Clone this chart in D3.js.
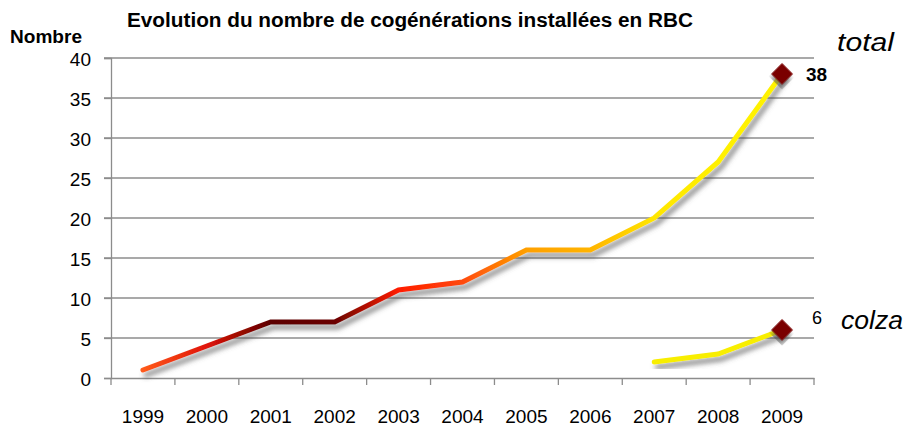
<!DOCTYPE html>
<html>
<head>
<meta charset="utf-8">
<script src="https://cdn.jsdelivr.net/npm/d3@7"></script>
<style>
  html, body { margin: 0; padding: 0; background: #fff; }
  svg { display: block; font-family: "Liberation Sans", Arial, sans-serif; }
</style>
</head>
<body>
<svg id="chart" width="907" height="431"></svg>
<script>
// ---- data ----
const years = ["1999","2000","2001","2002","2003","2004","2005","2006","2007","2008","2009"];
const totalValues = [1, 4, 7, 7, 11, 12, 16, 16, 20, 27, 38];
const colzaYears = ["2007","2008","2009"];
const colzaValues = [2, 3, 6];
const yTicks = [0, 5, 10, 15, 20, 25, 30, 35, 40];
const titleText = "Evolution du nombre de cogénérations installées en RBC";
const yAxisTitle = "Nombre";
const seriesNames = ["total", "colza"];

// ---- style ----
const gradientColors = ["#FF5A1A", "#E01408", "#5C0000", "#6A0404", "#FF1C00", "#FF4A0C", "#FFA000", "#FFB400", "#FFE600", "#FFF000", "#FFF200"];
const gridColor = "#8C8C8C";
const markerColor = "#7A0000";
const colzaColor = "#F8EE00";

const svg = d3.select("#chart");
const x = d3.scaleBand().domain(years).range([111, 814]).padding(0);
const y = d3.scaleLinear().domain([0, 40]).range([378, 58]);
const cx = d => x(d) + x.bandwidth() / 2;

const defs = svg.append("defs");
const f = defs.append("filter").attr("id", "shadow")
  .attr("x", "-20%").attr("y", "-20%").attr("width", "140%").attr("height", "140%");
f.append("feGaussianBlur").attr("in", "SourceAlpha").attr("stdDeviation", 2.5).attr("result", "b");
f.append("feOffset").attr("in", "b").attr("dx", 3).attr("dy", 5).attr("result", "o");
f.append("feFlood").attr("flood-color", "#555").attr("flood-opacity", 0.65);
f.append("feComposite").attr("in2", "o").attr("operator", "in").attr("result", "s");
const m = f.append("feMerge");
m.append("feMergeNode").attr("in", "s");
m.append("feMergeNode").attr("in", "SourceGraphic");

const grad = defs.append("linearGradient").attr("id", "totGrad")
  .attr("gradientUnits", "userSpaceOnUse")
  .attr("x1", cx(years[0])).attr("x2", cx(years[years.length - 1]))
  .attr("y1", 0).attr("y2", 0);
years.forEach((yr, i) => {
  grad.append("stop")
    .attr("offset", (cx(yr) - cx(years[0])) / (cx(years[years.length - 1]) - cx(years[0])))
    .attr("stop-color", gradientColors[i]);
});

// gridlines
svg.append("g").selectAll("line").data(yTicks.filter(t => t > 0)).join("line")
  .attr("x1", 104).attr("x2", 814)
  .attr("y1", d => y(d)).attr("y2", d => y(d))
  .attr("stroke", gridColor).attr("stroke-width", 1.3);

// y axis
const yAxis = svg.append("g").attr("transform", "translate(111,0)")
  .call(d3.axisLeft(y).tickValues(yTicks).tickSize(7).tickPadding(13));
yAxis.select(".domain").attr("stroke", gridColor).attr("stroke-width", 1.3);
yAxis.selectAll(".tick line").attr("stroke", gridColor).attr("stroke-width", 1.3);
yAxis.selectAll(".tick text").attr("font-size", 19).attr("fill", "#000")
  .attr("font-family", "Liberation Sans, Arial, sans-serif").attr("dy", "0.38em");

// x axis
const xAxis = svg.append("g").attr("transform", "translate(0,378)")
  .call(d3.axisBottom(x).tickSize(0).tickPadding(32));
xAxis.select(".domain").attr("stroke", gridColor).attr("stroke-width", 1.3);
xAxis.selectAll(".tick text").attr("font-size", 19).attr("fill", "#000")
  .attr("font-family", "Liberation Sans, Arial, sans-serif");
// category boundary ticks
const bounds = years.map(d => x(d)).concat([x(years[years.length - 1]) + x.bandwidth()]);
svg.append("g").selectAll("line").data(bounds).join("line")
  .attr("x1", d => d).attr("x2", d => d).attr("y1", 378).attr("y2", 385)
  .attr("stroke", gridColor).attr("stroke-width", 1.3);

// lines
const line = d3.line().x(d => cx(d[0])).y(d => y(d[1]));
svg.append("path")
  .datum(years.map((yr, i) => [yr, totalValues[i]]))
  .attr("d", line).attr("fill", "none")
  .attr("stroke", "url(#totGrad)").attr("stroke-width", 5)
  .attr("stroke-linejoin", "miter").attr("stroke-linecap", "round")
  .attr("filter", "url(#shadow)");
svg.append("path")
  .datum(colzaYears.map((yr, i) => [yr, colzaValues[i]]))
  .attr("d", line).attr("fill", "none")
  .attr("stroke", colzaColor).attr("stroke-width", 5)
  .attr("stroke-linejoin", "miter").attr("stroke-linecap", "round")
  .attr("filter", "url(#shadow)");

// end markers
const ends = [[years[years.length - 1], totalValues[totalValues.length - 1]],
              [colzaYears[colzaYears.length - 1], colzaValues[colzaValues.length - 1]]];
svg.append("g").selectAll("path").data(ends).join("path")
  .attr("d", d3.symbol().type(d3.symbolSquare).size(240))
  .attr("transform", d => `translate(${cx(d[0])},${y(d[1])}) rotate(45)`)
  .attr("fill", markerColor).attr("filter", "url(#shadow)");

// value labels
svg.append("text").attr("x", cx(ends[0][0]) + 24).attr("y", y(ends[0][1]) + 7)
  .attr("font-size", 19).attr("font-weight", "bold").text(ends[0][1]);
svg.append("text").attr("x", cx(ends[1][0]) + 30).attr("y", y(ends[1][1]) - 6)
  .attr("font-size", 18).text(ends[1][1]);

// series names
svg.append("text").attr("x", 837).attr("y", 51)
  .attr("font-size", 25).attr("font-style", "italic")
  .attr("textLength", 57).attr("lengthAdjust", "spacingAndGlyphs").text(seriesNames[0]);
svg.append("text").attr("x", 841).attr("y", 329)
  .attr("font-size", 25).attr("font-style", "italic")
  .attr("textLength", 62).attr("lengthAdjust", "spacingAndGlyphs").text(seriesNames[1]);

// titles
svg.append("text").attr("x", 127).attr("y", 27)
  .attr("font-size", 20).attr("font-weight", "bold")
  .attr("textLength", 566).attr("lengthAdjust", "spacingAndGlyphs").text(titleText);
svg.append("text").attr("x", 10).attr("y", 43)
  .attr("font-size", 18).attr("font-weight", "bold")
  .attr("textLength", 72).attr("lengthAdjust", "spacingAndGlyphs").text(yAxisTitle);
</script>
</body>
</html>
